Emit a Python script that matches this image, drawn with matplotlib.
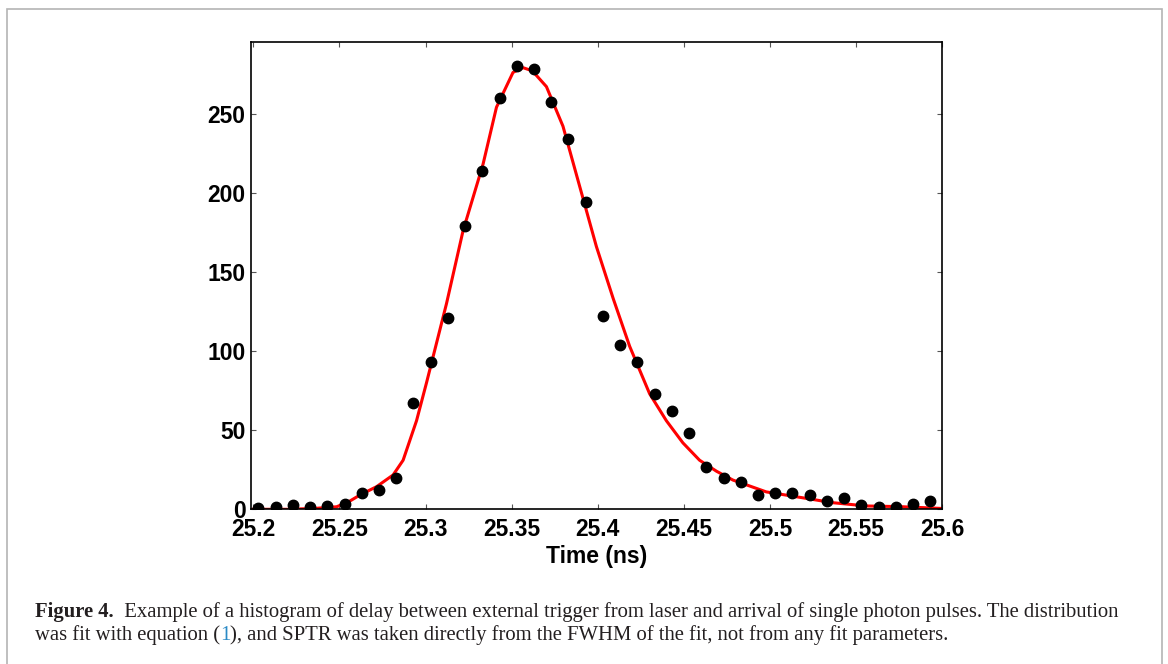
import matplotlib
matplotlib.use('Agg')
import matplotlib.pyplot as plt
from matplotlib.patches import Rectangle

# histogram bins (ns) and counts
time_ns = [25.203, 25.213, 25.223, 25.233, 25.243, 25.253, 25.263, 25.273, 25.283, 25.293,
           25.303, 25.313, 25.323, 25.333, 25.343, 25.353, 25.363, 25.373, 25.383, 25.393,
           25.403, 25.413, 25.423, 25.433, 25.443, 25.453, 25.463, 25.473, 25.483, 25.493,
           25.503, 25.513, 25.523, 25.533, 25.543, 25.553, 25.563, 25.573, 25.583, 25.593]
counts = [0.6, 1.6, 2.7, 1.6, 2.2, 3.3, 10, 12, 20, 67,
          93, 121, 179, 214, 260, 280, 278, 257, 234, 194,
          122, 104, 93, 73, 62, 48, 27, 20, 17, 9,
          10, 10, 9, 5.4, 7, 2.7, 1.6, 1.6, 3.3, 5.4]

# fitted curve, sampled from the figure
fit_t = [25.200, 25.220, 25.235, 25.2484, 25.2550, 25.2619, 25.2716, 25.2812, 25.2870, 25.2948,
         25.3006, 25.3122, 25.3218, 25.3334, 25.3412, 25.3508, 25.3566, 25.3620, 25.3702, 25.3798,
         25.3895, 25.3992, 25.4090, 25.4185, 25.4301, 25.4398, 25.4494, 25.4591, 25.4690, 25.4784,
         25.4978, 25.5171, 25.5362, 25.5558, 25.5751, 25.5983, 25.6000]
fit_v = [0, 0, 0.5, 1.6, 4.5, 9, 14.3, 21.7, 31, 56,
         80, 130, 176, 218, 254, 276, 279, 277, 267, 242,
         204, 166, 133, 103, 73, 56, 42, 31, 24, 18.5,
         11, 7.6, 4.2, 2.1, 1.7, 0.6, 0.5]

x_ticks = [25.2, 25.25, 25.3, 25.35, 25.4, 25.45, 25.5, 25.55, 25.6]
y_ticks = [0, 50, 100, 150, 200, 250]

caption1 = [('Figure 4.', 'bold', '#231f20'),
            ('  Example of a histogram of delay between external trigger from laser and arrival '
             'of single photon pulses. The distribution', 'normal', '#231f20')]
caption2 = [('was fit with equation (', 'normal', '#231f20'),
            ('1', 'normal', '#2b8ac6'),
            ('), and SPTR was taken directly from the FWHM of the fit, not from any fit parameters.',
             'normal', '#231f20')]

W, H = 1168, 664
fig = plt.figure(figsize=(W / 100, H / 100), dpi=100)
ax = fig.add_axes([251 / W, (H - 509.3) / H, 691.3 / W, 467.6 / H])

ax.plot(fit_t, fit_v, color='red', lw=2.2, zorder=2)
ax.plot(time_ns, counts, 'o', color='black', ms=7.5, zorder=3)

ax.set_xlim(25.1987, 25.6)
ax.set_ylim(0, 295.4)
ax.set_xticks(x_ticks)
ax.set_xticklabels(['%g' % t for t in x_ticks])
ax.set_yticks(y_ticks)
for lab in ax.get_xticklabels() + ax.get_yticklabels():
    lab.set_fontfamily('Liberation Sans')
    lab.set_fontweight('bold')
    lab.set_fontsize(16.5)
ax.tick_params(direction='in', top=True, right=True, length=3.6, width=0.8,
               color='#555555', pad=4)
ax.tick_params(axis='x', pad=6)
for sp in ax.spines.values():
    sp.set_linewidth(1.2)
ax.set_xlabel('Time (ns)', fontfamily='Liberation Sans', fontweight='bold',
              fontsize=16.5, labelpad=3)

# light grey frame around the whole figure
fig.patches.append(Rectangle((7 / W, -0.02), 1155 / W, 1.02 - 9 / H,
                             transform=fig.transFigure, fill=False,
                             edgecolor='#b4b4b4', lw=1.2))

renderer = fig.canvas.get_renderer()


def put_line(x_px, y_px, pieces, fs):
    x = x_px
    for s, weight, col in pieces:
        t = fig.text(x / W, 1 - y_px / H, s, fontfamily='Liberation Serif', fontweight=weight,
                     fontsize=fs, color=col, va='baseline', ha='left')
        bb = t.get_window_extent(renderer)
        x = bb.x1
    return x - x_px


# size the caption so the first line spans the same width as in the original
trial = put_line(35, 617, caption1, 12)
for t in list(fig.texts):
    t.remove()
fs = 12 * 1083 / trial
put_line(35, 617, caption1, fs)
put_line(35, 640, caption2, fs)

fig.savefig('out.png', dpi=100)
